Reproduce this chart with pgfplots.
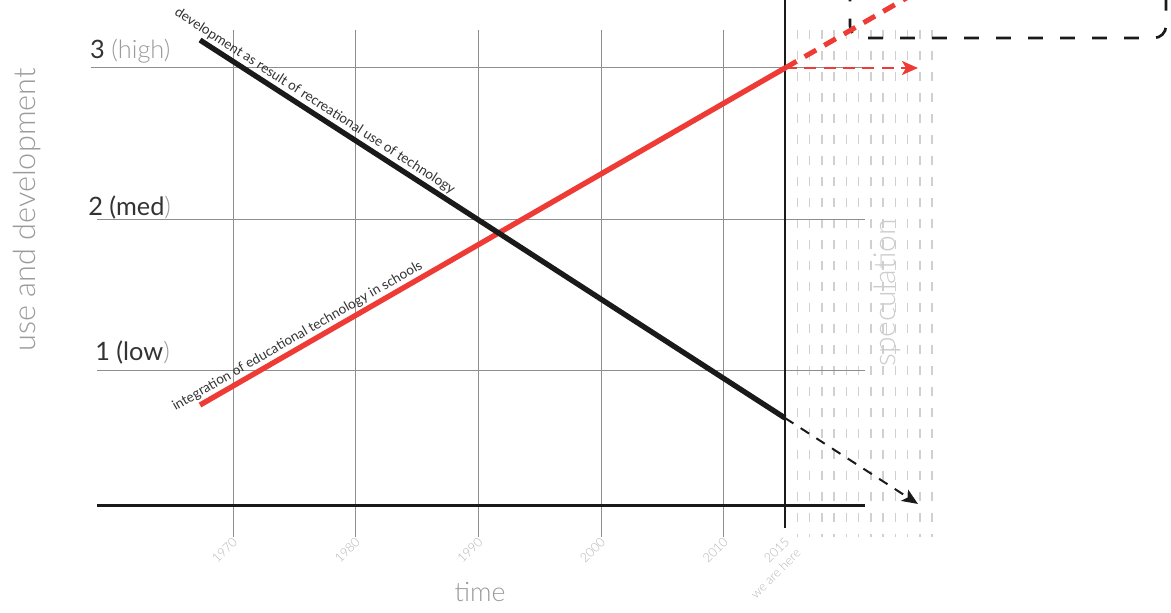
\documentclass[border=0pt]{standalone}
\usepackage{fontspec}
\setmainfont{Lato}
\newfontfamily\lightfont{Lato Light}
\usepackage{pgfplots}
\pgfplotsset{compat=1.18}
\usetikzlibrary{arrows.meta}
\definecolor{myred}{HTML}{EE3B36}
\definecolor{myblack}{HTML}{1A1A1A}
\definecolor{gridgray}{HTML}{8E8E8E}
\definecolor{dashgray}{HTML}{D0D0D0}
\definecolor{labelgray}{HTML}{9A9A9A}
\definecolor{specgray}{HTML}{CCCCCC}
\definecolor{tickgray}{HTML}{B5B5B5}
\definecolor{textdark}{HTML}{333333}
\begin{document}
\begin{tikzpicture}
\begin{axis}[name=ax, at={(0,0)}, anchor=south west,
  scale only axis, width=878.25pt, height=459pt,
  xmin=1951.005, xmax=2046.467, ymin=-0.6026, ymax=3.4503,
  axis lines=none, xtick=\empty, ytick=\empty,
  unbounded coords=jump, clip=true]

% speculation dashes
\addplot[dashgray, line width=1.1pt, dash pattern=on 6.75pt off 9pt] coordinates {
(2016,3.252) (2016,-0.106) (2016,nan)
(2017,3.252) (2017,-0.106) (2017,nan)
(2018,3.252) (2018,-0.106) (2018,nan)
(2019,3.252) (2019,-0.106) (2019,nan)
(2020,3.252) (2020,-0.106) (2020,nan)
(2021,3.252) (2021,-0.106) (2021,nan)
(2022,3.252) (2022,-0.106) (2022,nan)
(2023,3.252) (2023,-0.106) (2023,nan)
(2024,3.252) (2024,-0.106) (2024,nan)
(2025,3.252) (2025,-0.106) (2025,nan)
(2026,3.252) (2026,-0.106) (2026,nan)
(2027,3.252) (2027,-0.106)
};

% vertical grid lines
\addplot[gridgray, line width=0.75pt] coordinates {
(1970,3.252) (1970,-0.106) (1970,nan)
(1980,3.252) (1980,-0.106) (1980,nan)
(1990,3.252) (1990,-0.106) (1990,nan)
(2000,3.252) (2000,-0.106) (2000,nan)
(2010,3.252) (2010,-0.106)
};

% horizontal grid lines
\addplot[gridgray, line width=0.75pt] coordinates {
(1958.42,3) (2021.52,3) (2021.52,nan)
(1958.91,2) (2021.52,2) (2021.52,nan)
(1958.91,1) (2021.52,1)
};

% baseline
\addplot[myblack, line width=2.25pt] coordinates {(1958.91,0.1) (2021.52,0.1)};

% 2015 "we are here" line
\addplot[myblack, line width=1.8pt] coordinates {(2015,-0.046) (2015,3.6)};

% dashed rounded box (top right)
\addplot[myblack, line width=2pt, dash pattern=on 11pt off 13pt, rounded corners=9pt] coordinates {
(2020.30,3.75) (2020.30,3.199) (2046.06,3.199) (2046.06,3.75)};

% red speculation lines
\addplot[myred, line width=3.75pt, dash pattern=on 10pt off 7pt] coordinates {(2015,3) (2026,3.515)};
\addplot[myred, line width=1.5pt, dash pattern=on 9pt off 5.5pt, -{Stealth[length=12pt,width=10.5pt,inset=3pt]}] coordinates {(2015,3) (2025.84,3)};

% black speculation line
\addplot[myblack, line width=1.5pt, dash pattern=on 7.5pt off 6.5pt, -{Stealth[length=12pt,width=10pt,inset=3pt]}] coordinates {(2015,0.682) (2025.84,0.113)};

% red main line
\addplot[myred, line width=4pt] coordinates {(1967.31,0.768) (2015,3.0)}
  node[pos=0.176, sloped, above, inner sep=1.5pt, text=textdark, font=\fontsize{10.2}{12}\selectfont] {integration of educational technology in schools};

% black main line
\addplot[myblack, line width=4pt] coordinates {(1967.31,3.185) (2015,0.682)}
  node[pos=0.186, sloped, above, inner sep=1.5pt, text=textdark, font=\fontsize{10.2}{12}\selectfont] {development as result of recreational use of technology};

% y level labels
\node[anchor=base west, inner sep=0pt, font=\fontsize{19}{21}\selectfont] at (axis cs:1958.34,3.066) {\textcolor{textdark}{3} \textcolor{labelgray}{\lightfont (high)}};
\node[anchor=base west, inner sep=0pt, font=\fontsize{19}{21}\selectfont] at (axis cs:1958.18,2.026) {\textcolor{textdark}{2 (med}\textcolor{labelgray}{\lightfont )}};
\node[anchor=base west, inner sep=0pt, font=\fontsize{19}{21}\selectfont] at (axis cs:1958.75,1.066) {\textcolor{textdark}{1 (low}\textcolor{labelgray}{\lightfont )}};

% axis titles
\node[rotate=90, anchor=base, inner sep=0pt, text=labelgray, font=\lightfont\fontsize{23}{26}\selectfont] at (axis cs:1953.86,2.06) {use and development};
\node[anchor=base, inner sep=0pt, text=labelgray, font=\lightfont\fontsize{20}{24}\selectfont] at (axis cs:1990.14,-0.536) {time};
\node[rotate=90, anchor=base, inner sep=0pt, text=specgray, font=\lightfont\fontsize{22.5}{26}\selectfont] at (axis cs:2023.97,1.51) {speculation};

% tick labels
\node[rotate=45, anchor=north east, inner sep=0pt, text=tickgray, font=\lightfont\fontsize{9.5}{11}\selectfont] at (axis cs:1969.9,-0.1) {1970};
\node[rotate=45, anchor=north east, inner sep=0pt, text=tickgray, font=\lightfont\fontsize{9.5}{11}\selectfont] at (axis cs:1979.9,-0.1) {1980};
\node[rotate=45, anchor=north east, inner sep=0pt, text=tickgray, font=\lightfont\fontsize{9.5}{11}\selectfont] at (axis cs:1989.9,-0.1) {1990};
\node[rotate=45, anchor=north east, inner sep=0pt, text=tickgray, font=\lightfont\fontsize{9.5}{11}\selectfont] at (axis cs:1999.9,-0.1) {2000};
\node[rotate=45, anchor=north east, inner sep=0pt, text=tickgray, font=\lightfont\fontsize{9.5}{11}\selectfont] at (axis cs:2009.9,-0.1) {2010};
\node[rotate=45, anchor=north east, inner sep=0pt, align=right, text=tickgray, font=\lightfont\fontsize{9.5}{12}\selectfont] at (axis cs:2014.9,-0.1) {2015\\we are here};
\end{axis}
\pgfresetboundingbox
\path[use as bounding box] (ax.south west) rectangle (ax.north east);
\end{tikzpicture}
\end{document}
